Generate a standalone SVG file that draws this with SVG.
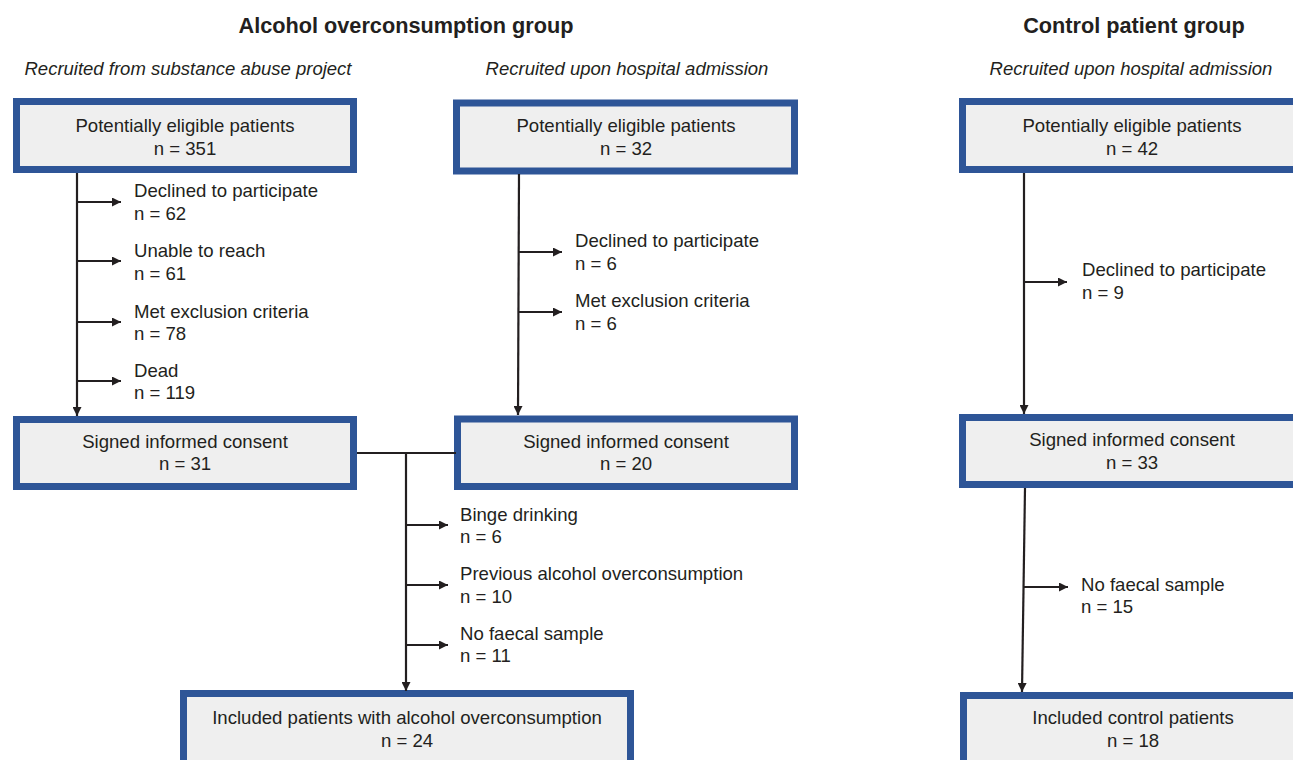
<svg xmlns="http://www.w3.org/2000/svg" width="1293" height="760" viewBox="0 0 1293 760">
<defs>
<style>
.box{fill:#efefef;stroke:#2e5597;stroke-width:7}
.t{font-family:"Liberation Sans",Arial,sans-serif;font-size:18.6px;fill:#231f20}
.c{text-anchor:middle}
.h{font-family:"Liberation Sans",Arial,sans-serif;font-size:21.7px;font-weight:bold;fill:#231f20;text-anchor:middle}
.s{font-family:"Liberation Sans",Arial,sans-serif;font-size:18.5px;font-style:italic;fill:#231f20;text-anchor:middle}
.ln{stroke:#231f20;stroke-width:2.2;fill:none}
</style>
<marker id="ah" viewBox="0 0 10 10" refX="10" refY="5" markerWidth="11" markerHeight="9" markerUnits="userSpaceOnUse" orient="auto">
<path d="M0,0 L10,5 L0,10 z" fill="#231f20"/>
</marker>
</defs>
<rect width="1293" height="760" fill="#ffffff"/>

<g id="titles">
<text class="h" x="406" y="33">Alcohol overconsumption group</text>
<text class="h" x="1134" y="33">Control patient group</text>
<text class="s" x="188" y="75">Recruited from substance abuse project</text>
<text class="s" x="627" y="75">Recruited upon hospital admission</text>
<text class="s" x="1131" y="75">Recruited upon hospital admission</text>
</g>

<g id="a-eligible">
<rect class="box" x="16.5" y="101.5" width="337" height="68"/>
<text class="t c" x="185" y="132">Potentially eligible patients</text>
<text class="t c" x="185" y="155">n = 351</text>
</g>
<g id="b-eligible">
<rect class="box" x="456.5" y="103" width="338" height="68"/>
<text class="t c" x="626" y="132">Potentially eligible patients</text>
<text class="t c" x="626" y="155">n = 32</text>
</g>
<g id="c-eligible">
<rect class="box" x="962.5" y="101.5" width="342" height="68"/>
<text class="t c" x="1132" y="132">Potentially eligible patients</text>
<text class="t c" x="1132" y="155">n = 42</text>
</g>

<g id="a-consent">
<rect class="box" x="16.5" y="419.5" width="337" height="67"/>
<text class="t c" x="185" y="448">Signed informed consent</text>
<text class="t c" x="185" y="470">n = 31</text>
</g>
<g id="b-consent">
<rect class="box" x="457.5" y="419" width="337" height="67.5"/>
<text class="t c" x="626" y="448">Signed informed consent</text>
<text class="t c" x="626" y="470">n = 20</text>
</g>
<g id="c-consent">
<rect class="box" x="962.5" y="417.5" width="342" height="67"/>
<text class="t c" x="1132" y="446">Signed informed consent</text>
<text class="t c" x="1132" y="469">n = 33</text>
</g>

<g id="a-included">
<rect class="box" x="183.5" y="693.5" width="447" height="80"/>
<text class="t c" x="407" y="724">Included patients with alcohol overconsumption</text>
<text class="t c" x="407" y="747">n = 24</text>
</g>
<g id="c-included">
<rect class="box" x="963.5" y="695.5" width="342" height="80"/>
<text class="t c" x="1133" y="724">Included control patients</text>
<text class="t c" x="1133" y="747">n = 18</text>
</g>

<g id="exclusions" class="t">
<text x="134" y="197">Declined to participate</text>
<text x="134" y="220">n = 62</text>
<text x="134" y="257">Unable to reach</text>
<text x="134" y="280">n = 61</text>
<text x="134" y="318">Met exclusion criteria</text>
<text x="134" y="340">n = 78</text>
<text x="134" y="377">Dead</text>
<text x="134" y="399">n = 119</text>

<text x="575" y="247">Declined to participate</text>
<text x="575" y="270">n = 6</text>
<text x="575" y="307">Met exclusion criteria</text>
<text x="575" y="330">n = 6</text>

<text x="1082" y="276">Declined to participate</text>
<text x="1082" y="299">n = 9</text>

<text x="460" y="521">Binge drinking</text>
<text x="460" y="543">n = 6</text>
<text x="460" y="580">Previous alcohol overconsumption</text>
<text x="460" y="603">n = 10</text>
<text x="460" y="640">No faecal sample</text>
<text x="460" y="662">n = 11</text>

<text x="1081" y="591">No faecal sample</text>
<text x="1081" y="613">n = 15</text>
</g>

<g id="connectors">
<line class="ln" x1="77" y1="173" x2="77" y2="416" marker-end="url(#ah)"/>
<line class="ln" x1="77" y1="202" x2="121" y2="202" marker-end="url(#ah)"/>
<line class="ln" x1="77" y1="261" x2="121" y2="261" marker-end="url(#ah)"/>
<line class="ln" x1="77" y1="322" x2="121" y2="322" marker-end="url(#ah)"/>
<line class="ln" x1="77" y1="381" x2="121" y2="381" marker-end="url(#ah)"/>

<line class="ln" x1="519" y1="174" x2="518" y2="415" marker-end="url(#ah)"/>
<line class="ln" x1="519" y1="252" x2="562" y2="252" marker-end="url(#ah)"/>
<line class="ln" x1="519" y1="312" x2="562" y2="312" marker-end="url(#ah)"/>

<line class="ln" x1="1024" y1="173" x2="1024" y2="414" marker-end="url(#ah)"/>
<line class="ln" x1="1024" y1="282" x2="1067" y2="282" marker-end="url(#ah)"/>

<line class="ln" x1="357" y1="453" x2="456" y2="453"/>
<line class="ln" x1="406" y1="453" x2="406" y2="691" marker-end="url(#ah)"/>
<line class="ln" x1="406" y1="525" x2="448" y2="525" marker-end="url(#ah)"/>
<line class="ln" x1="406" y1="585" x2="448" y2="585" marker-end="url(#ah)"/>
<line class="ln" x1="406" y1="645" x2="448" y2="645" marker-end="url(#ah)"/>

<line class="ln" x1="1025" y1="488" x2="1022" y2="692" marker-end="url(#ah)"/>
<line class="ln" x1="1024" y1="587" x2="1068" y2="587" marker-end="url(#ah)"/>
</g>
</svg>
